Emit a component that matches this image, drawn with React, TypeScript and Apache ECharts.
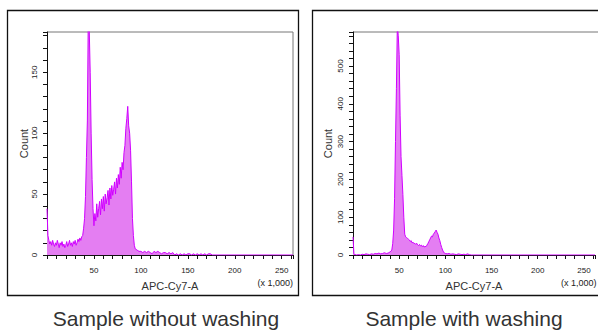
import React, { useEffect, useRef } from "react";
import * as echarts from "echarts";

// ---------- Data (x in thousands, APC-Cy7-A) ----------
const xLeft = [
  0, 1, 2, 3, 4, 5, 6, 7, 8, 9, 10, 11, 12, 13, 14, 15, 16, 17, 18, 19,
  20, 21, 22, 23, 24, 25, 26, 27, 28, 29, 30, 31, 32, 33, 34, 35, 36, 37, 38, 39,
  40, 41, 42, 43, 44, 45, 46, 47, 48, 49, 50, 51, 52, 53, 54, 55, 56, 57, 58, 59,
  60, 61, 62, 63, 64, 65, 66, 67, 68, 69, 70, 71, 72, 73, 74, 75, 76, 77, 78, 79,
  80, 81, 82, 83, 84, 85, 86, 87, 88, 89, 90, 91, 92, 93, 94, 96, 98, 100, 102, 104,
  106, 108, 110, 112, 114, 116, 118, 120, 122, 124, 126, 128, 130, 132, 134, 136, 138, 140, 142, 144,
  146, 148, 150, 152, 154, 156, 158, 160, 162, 164, 166, 168, 170, 172, 174, 176, 262,
];
const countLeft = [
  38, 16, 12, 9, 11, 8, 12, 9, 7, 10, 8, 12, 9, 6, 10, 8, 11, 7, 9, 6,
  8, 11, 7, 9, 12, 8, 10, 7, 11, 9, 12, 8, 10, 13, 11, 14, 12, 15, 16, 22,
  30, 48, 80, 110, 200, 185, 150, 100, 62, 38, 24, 34, 28, 42, 31, 38, 44, 33, 46, 38,
  48, 36, 50, 42, 47, 53, 41, 55, 46, 57, 49, 54, 60, 50, 63, 55, 66, 58, 72, 63,
  76, 70, 84, 90, 104, 112, 122, 106, 100, 86, 60, 30, 16, 8, 5, 4, 3, 3, 2, 3,
  2, 3, 2, 1, 3, 2, 3, 2, 1, 2, 2, 1, 2, 1, 2, 0, 1, 0, 1, 0,
  1, 0, 1, 1, 0, 1, 0, 1, 0, 1, 0, 1, 0, 1, 1, 0, 0,
];

const xRight = [
  0, 1, 2, 4, 6, 8, 10, 12, 14, 16, 18, 20, 22, 24, 26, 28, 30, 32, 34, 36,
  38, 40, 41, 42, 43, 44, 45, 46, 47, 48, 49, 50, 51, 52, 53, 54, 55, 56, 57, 58,
  59, 60, 61, 62, 63, 64, 65, 66, 67, 68, 69, 70, 71, 72, 73, 74, 75, 76, 77, 78,
  79, 80, 81, 82, 83, 84, 85, 86, 87, 88, 89, 90, 91, 92, 93, 94, 95, 96, 97, 98,
  99, 100, 102, 104, 106, 108, 110, 112, 114, 116, 118, 120, 122, 124, 126, 128, 130, 262,
];
const countRight = [
  48, 3, 1, 0, 1, 0, 2, 1, 3, 2, 1, 3, 2, 4, 3, 5, 3, 4, 6, 4,
  5, 8, 10, 13, 30, 66, 150, 300, 440, 610, 580, 530, 370, 260, 210, 160, 100, 55, 48, 46,
  44, 42, 40, 36, 38, 32, 34, 30, 31, 28, 31, 27, 25, 28, 24, 26, 22, 25, 21, 23,
  22, 26, 30, 35, 40, 45, 50, 48, 55, 58, 62, 66, 60, 55, 45, 38, 28, 20, 13, 8,
  5, 4, 3, 4, 2, 3, 2, 1, 3, 2, 1, 2, 1, 3, 1, 0, 0, 0,
];

const leftYMax = 183;
const rightYMax = 590;
const xMax = 262;
const captions = ["Sample without washing", "Sample with washing"];
const xAxisName = "APC-Cy7-A";
const yAxisName = "Count";
const scaleNote = "(x 1,000)";

const FONT = "'Liberation Sans', Arial, sans-serif";
const LINE = "#d000ff";
const FILL = "#e47ef2";

function pairs(xs: number[], ys: number[]) {
  return xs.map((x, i) => [x, ys[i]]);
}

export default function App() {
  const ref = useRef<HTMLDivElement>(null);

  useEffect(() => {
    if (!ref.current) return;
    const chart = echarts.init(ref.current, null, { renderer: "svg" });

    const grids = [
      { left: 47, top: 32, width: 246, height: 223 },
      { left: 353, top: 32, width: 245, height: 223 },
    ];

    const xAxisCommon = (gridIndex: number) => ({
      type: "value" as const,
      gridIndex,
      min: 0,
      max: xMax,
      interval: 10,
      name: xAxisName,
      nameLocation: "middle" as const,
      nameGap: 25,
      nameTextStyle: { fontSize: 11, color: "#333", fontFamily: FONT },
      axisLine: { show: true, onZero: false, lineStyle: { color: "#111", width: 1 } },
      axisTick: { show: true, inside: false, length: 4, lineStyle: { color: "#111" } },
      axisLabel: {
        fontSize: 8,
        color: "#222",
        fontFamily: FONT,
        margin: 11,
        formatter: (v: number) => (v > 0 && v % 50 === 0 ? String(v) : ""),
      },
      splitLine: { show: false },
    });

    const yAxisCommon = (gridIndex: number, max: number, interval: number, labelStep: number, nameGap: number) => ({
      type: "value" as const,
      gridIndex,
      min: 0,
      max,
      interval,
      name: yAxisName,
      nameLocation: "middle" as const,
      nameGap,
      nameRotate: 90,
      nameTextStyle: { fontSize: 11, color: "#333", fontFamily: FONT },
      axisLine: { show: true, onZero: false, lineStyle: { color: "#111", width: 1 } },
      axisTick: { show: true, inside: false, length: 4, lineStyle: { color: "#111" } },
      axisLabel: {
        fontSize: 8,
        color: "#222",
        fontFamily: FONT,
        rotate: 90,
        margin: 9,
        formatter: (v: number) => (v % labelStep === 0 ? String(v) : ""),
      },
      splitLine: { show: false },
    });

    const frame = (g: { left: number; top: number; width: number; height: number }, drawRight: boolean) => {
      const items: any[] = [
        {
          type: "line",
          shape: { x1: g.left, y1: g.top, x2: g.left + g.width, y2: g.top },
          style: { stroke: "#777", lineWidth: 1 },
          silent: true,
        },
      ];
      if (drawRight) {
        items.push({
          type: "line",
          shape: { x1: g.left + g.width, y1: g.top, x2: g.left + g.width, y2: g.top + g.height },
          style: { stroke: "#777", lineWidth: 1 },
          silent: true,
        });
      }
      return items;
    };

    const seriesCommon = {
      type: "line" as const,
      showSymbol: false,
      symbol: "none",
      clip: true,
      lineStyle: { color: LINE, width: 1 },
      areaStyle: { color: FILL, opacity: 1 },
      itemStyle: { color: LINE },
    };

    chart.setOption({
      animation: false,
      grid: grids,
      xAxis: [xAxisCommon(0), xAxisCommon(1)],
      yAxis: [yAxisCommon(0, leftYMax, 10, 50, 15), yAxisCommon(1, rightYMax, 20, 100, 20)],
      series: [
        { ...seriesCommon, xAxisIndex: 0, yAxisIndex: 0, data: pairs(xLeft, countLeft) },
        { ...seriesCommon, xAxisIndex: 1, yAxisIndex: 1, data: pairs(xRight, countRight) },
      ],
      graphic: [
        {
          type: "rect",
          shape: { x: 7.5, y: 10.5, width: 291, height: 285 },
          style: { fill: "none", stroke: "#111", lineWidth: 1.3 },
          silent: true,
        },
        {
          type: "rect",
          shape: { x: 312.5, y: 10.5, width: 300, height: 285 },
          style: { fill: "none", stroke: "#111", lineWidth: 1.3 },
          silent: true,
        },
        ...frame(grids[0], true),
        ...frame(grids[1], false),
        {
          type: "text",
          x: 293,
          y: 283,
          style: { text: scaleNote, fontSize: 9, fill: "#222", fontFamily: FONT, align: "right", verticalAlign: "middle" },
          silent: true,
        },
        {
          type: "text",
          x: 561,
          y: 283,
          style: { text: scaleNote, fontSize: 9, fill: "#222", fontFamily: FONT, align: "left", verticalAlign: "middle" },
          silent: true,
        },
        {
          type: "text",
          x: 166,
          y: 318,
          style: { text: captions[0], fontSize: 21, fill: "#333", fontFamily: FONT, align: "center", verticalAlign: "middle" },
          silent: true,
        },
        {
          type: "text",
          x: 464,
          y: 318,
          style: { text: captions[1], fontSize: 21, fill: "#333", fontFamily: FONT, align: "center", verticalAlign: "middle" },
          silent: true,
        },
      ],
    });

    return () => chart.dispose();
  }, []);

  return (
    <div
      ref={ref}
      style={{ position: "absolute", left: 0, top: 0, width: 598, height: 331, background: "#fff" }}
    />
  );
}
